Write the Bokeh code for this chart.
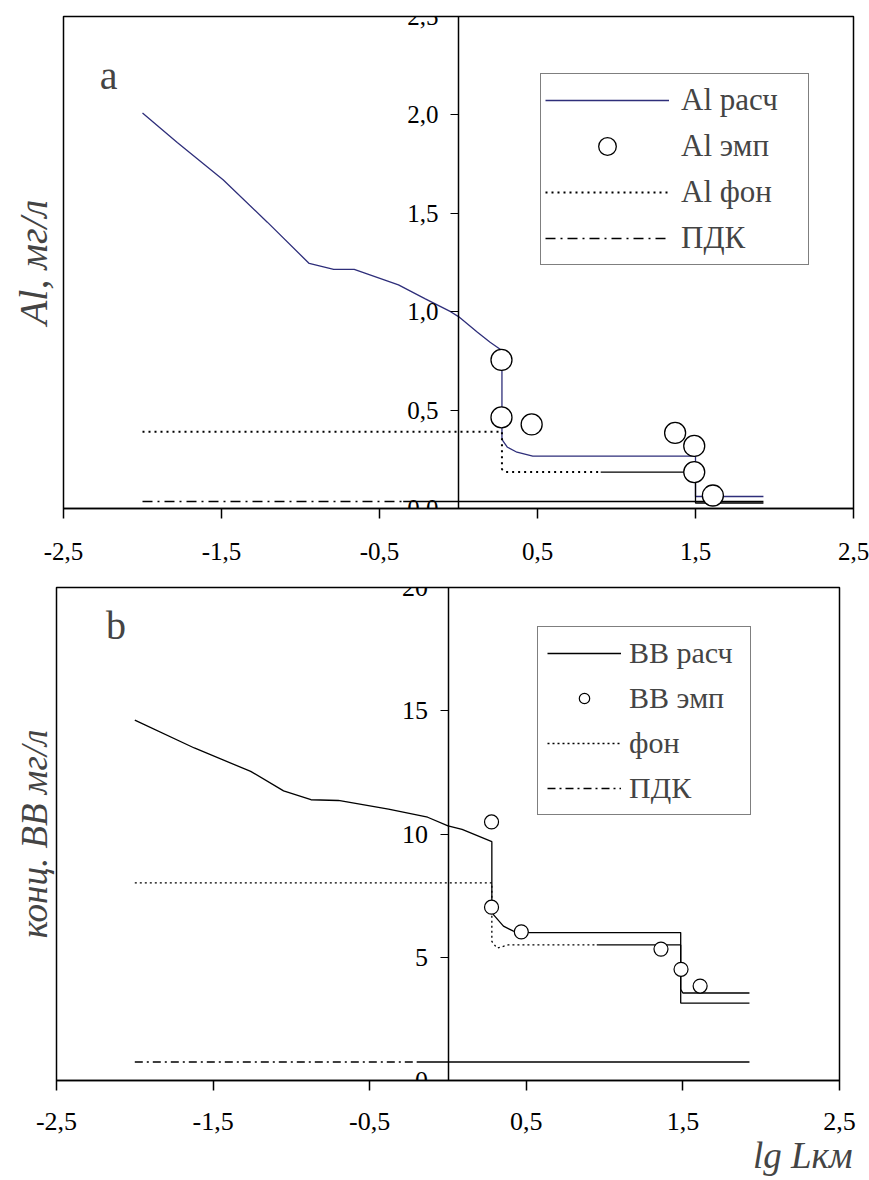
from bokeh.plotting import figure
from bokeh.models import (LinearAxis, FixedTicker, Range1d, Title, Label,
                          Legend, LegendItem)
from bokeh.layouts import column
from bokeh.embed import file_html
from bokeh.resources import INLINE

# ---------------- data ----------------
x_ticks = [-2.5, -1.5, -0.5, 0.5, 1.5, 2.5]
x_tick_labels = ["-2,5", "-1,5", "-0,5", "0,5", "1,5", "2,5"]

# panel a : Al
a_y_ticks = [0.0, 0.5, 1.0, 1.5, 2.0, 2.5]
a_y_tick_labels = ["0,0", "0,5", "1,0", "1,5", "2,0", "2,5"]

al_calc_x = [-2.0, -1.78, -1.49, -1.21, -0.945, -0.79, -0.66, -0.38, -0.21,
             -0.05, 0.0, 0.12, 0.20, 0.275, 0.275, 0.275, 0.28, 0.31, 0.37,
             0.47, 1.50, 1.50, 1.93]
al_calc_y = [2.01, 1.86, 1.67, 1.455, 1.245, 1.215, 1.215, 1.136, 1.065,
             1.0, 0.975, 0.896, 0.845, 0.803, 0.40, 0.36, 0.345, 0.311, 0.286,
             0.266, 0.266, 0.061, 0.061]

al_emp_x = [0.272, 0.272, 0.463, 1.371, 1.492, 1.492, 1.61]
al_emp_y = [0.755, 0.463, 0.427, 0.384, 0.318, 0.185, 0.066]

al_bg_x = [-2.0, 0.275, 0.275, 0.30, 1.50, 1.50, 1.93]
al_bg_y = [0.39, 0.39, 0.20, 0.185, 0.185, 0.028, 0.028]

al_pdk_x = [-2.0, 1.93]
al_pdk_y = [0.036, 0.036]

# panel b : ВВ
b_y_ticks = [0, 5, 10, 15, 20]
b_y_tick_labels = ["0", "5", "10", "15", "20"]

bb_calc_x = [-2.0, -1.62, -1.26, -1.05, -0.875, -0.70, -0.38, -0.13, 0.0,
             0.09, 0.28, 0.28, 0.28, 0.29, 0.354, 0.418, 0.47, 1.486, 1.486,
             1.50, 1.925]
bb_calc_y = [14.62, 13.49, 12.54, 11.75, 11.39, 11.36, 11.01, 10.68, 10.33,
             10.19, 9.69, 7.95, 7.0, 6.73, 6.26, 6.06, 6.0, 6.0, 3.7,
             3.55, 3.55]

bb_emp_x = [0.278, 0.278, 0.468, 1.36, 1.488, 1.61]
bb_emp_y = [10.49, 7.03, 6.03, 5.33, 4.51, 3.83]

bb_bg_x = [-2.0, 0.28, 0.28, 0.313, 0.385, 1.486, 1.486, 1.925]
bb_bg_y = [8.02, 8.02, 5.64, 5.37, 5.50, 5.50, 3.14, 3.14]

bb_pdk_x = [-2.0, 1.925]
bb_pdk_y = [0.75, 0.75]

SERIF = "Liberation Serif"


def split_at(xs, ys, xcut):
    """Split a polyline into the part left of xcut and the part right of it
    (used only to switch the dash style, as in the original drawing)."""
    lx, ly, rx, ry = [], [], [], []
    for i in range(len(xs)):
        if xs[i] <= xcut:
            lx.append(xs[i]); ly.append(ys[i])
        else:
            if not rx and lx:
                x0, y0 = xs[i - 1], ys[i - 1]
                yc = y0 + (ys[i] - y0) * (xcut - x0) / (xs[i] - x0)
                lx.append(xcut); ly.append(yc)
                rx.append(xcut); ry.append(yc)
            rx.append(xs[i]); ry.append(ys[i])
    return lx, ly, rx, ry


def base_fig(height, y_end, y_ticks, y_labels, borders, tick_size, x_standoff):
    top, bottom, left, right = borders
    p = figure(width=869, height=height, x_range=Range1d(-2.5, 2.5),
               y_range=Range1d(0, y_end), output_backend="svg",
               toolbar_location=None, y_axis_location=None,
               min_border_top=top, min_border_bottom=bottom,
               min_border_left=left, min_border_right=right,
               frame_align=False)
    p.grid.visible = False
    p.outline_line_color = "black"
    p.outline_line_width = 1.5
    p.background_fill_color = "white"
    p.border_fill_color = "white"

    xa = p.xaxis[0]
    xa.ticker = FixedTicker(ticks=x_ticks)
    xa.major_label_overrides = {t: l for t, l in zip(x_ticks, x_tick_labels)}
    xa.major_tick_in = 0
    xa.major_tick_out = 10
    xa.minor_tick_in = 0
    xa.minor_tick_out = 0
    xa.axis_line_color = "black"
    xa.axis_line_width = 1.5
    xa.major_tick_line_width = 1.5
    xa.major_label_text_font = SERIF
    xa.major_label_text_font_size = tick_size
    xa.major_label_text_color = "black"
    xa.major_label_standoff = x_standoff

    ya = LinearAxis(fixed_location=0, ticker=FixedTicker(ticks=y_ticks),
                    major_label_overrides={t: l for t, l in zip(y_ticks, y_labels)})
    ya.major_tick_in = 0
    ya.major_tick_out = 8
    ya.minor_tick_in = 0
    ya.minor_tick_out = 0
    ya.axis_line_color = "black"
    ya.axis_line_width = 1.5
    ya.major_tick_line_width = 1.2
    ya.major_label_text_font = SERIF
    ya.major_label_text_font_size = tick_size
    ya.major_label_text_color = "black"
    ya.major_label_standoff = 12
    p.add_layout(ya, "left")
    return p


# ---------------- panel a ----------------
pa = base_fig(574, 2.5, a_y_ticks, a_y_tick_labels, (16, 66, 63, 16), "25px", 24)

r_al_calc = pa.line(al_calc_x, al_calc_y, line_color="#2e2e7a", line_width=1.3)

bgL_x, bgL_y, bgR_x, bgR_y = split_at(al_bg_x, al_bg_y, 0.9)
r_al_bg = pa.line(bgL_x, bgL_y, line_color="black", line_width=2,
                  line_dash="2 4")
pa.line(bgR_x, bgR_y, line_color="black", line_width=1.3)

pkL_x, pkL_y, pkR_x, pkR_y = split_at(al_pdk_x, al_pdk_y, -0.35)
r_al_pdk = pa.line(pkL_x, pkL_y, line_color="black", line_width=1.5,
                   line_dash="10 5 2 5")
pa.line(pkR_x, pkR_y, line_color="black", line_width=1.5)

r_al_emp = pa.scatter(al_emp_x, al_emp_y, marker="circle", size=21,
                      fill_color="white", line_color="black", line_width=1.3)

pa.add_layout(Title(text="Al, мг/л", align="center", text_font=SERIF,
                    text_font_style="italic", text_font_size="40px",
                    standoff=15), "left")
pa.add_layout(Label(x=-2.215, y=2.2, text="a", text_align="center",
                    text_baseline="middle", text_font=SERIF,
                    text_font_size="40px"))

leg_a = Legend(items=[LegendItem(label="Al расч", renderers=[r_al_calc]),
                      LegendItem(label="Al эмп", renderers=[r_al_emp]),
                      LegendItem(label="Al фон", renderers=[r_al_bg]),
                      LegendItem(label="ПДК", renderers=[r_al_pdk])],
               location=(477, 243), margin=0, padding=4, spacing=2,
               glyph_width=124, glyph_height=44, label_standoff=12,
               label_width=123, label_height=30,
               label_text_font=SERIF, label_text_font_size="31px",
               border_line_color="black", border_line_width=1.5,
               background_fill_color="white", background_fill_alpha=1)
pa.add_layout(leg_a, "center")

# ---------------- panel b ----------------
pb = base_fig(606, 20, b_y_ticks, b_y_tick_labels, (13, 100, 56, 30), "26px", 22)

r_bb_calc = pb.line(bb_calc_x, bb_calc_y, line_color="black", line_width=1.3)

bL_x, bL_y, bR_x, bR_y = split_at(bb_bg_x, bb_bg_y, 0.95)
r_bb_bg = pb.line(bL_x, bL_y, line_color="black", line_width=1.3,
                  line_dash="2 3")
pb.line(bR_x, bR_y, line_color="black", line_width=1.3)

qL_x, qL_y, qR_x, qR_y = split_at(bb_pdk_x, bb_pdk_y, -0.2)
r_bb_pdk = pb.line(qL_x, qL_y, line_color="black", line_width=1.3,
                   line_dash="8 4 2 4")
pb.line(qR_x, qR_y, line_color="black", line_width=1.3)

r_bb_emp = pb.scatter(bb_emp_x, bb_emp_y, marker="circle", size=14,
                      fill_color="white", line_color="black", line_width=1.2)

pb.add_layout(Title(text="конц. ВВ мг/л", align="center", text_font=SERIF,
                    text_font_style="italic", text_font_size="37px",
                    standoff=4), "left")
pb.add_layout(Label(x=-2.12, y=18.46, text="b", text_align="center",
                    text_baseline="middle", text_font=SERIF,
                    text_font_size="40px"))
pb.add_layout(Title(text="lg Lкм", align="right", offset=-13, standoff=0,
                    text_font=SERIF, text_font_style="italic",
                    text_font_size="37px"), "below")

leg_b = Legend(items=[LegendItem(label="ВВ расч", renderers=[r_bb_calc]),
                      LegendItem(label="ВВ эмп", renderers=[r_bb_emp]),
                      LegendItem(label="фон", renderers=[r_bb_bg]),
                      LegendItem(label="ПДК", renderers=[r_bb_pdk])],
               location=(481, 265), margin=0, padding=9, spacing=11,
               glyph_width=74, glyph_height=26, label_standoff=8,
               label_width=112, label_height=30,
               label_text_font=SERIF, label_text_font_size="30px",
               border_line_color="black", border_line_width=1.5,
               background_fill_color="white", background_fill_alpha=1)
pb.add_layout(leg_b, "center")

layout = column(pa, pb, spacing=0)
open("out.html", "w").write(file_html(layout, INLINE))
